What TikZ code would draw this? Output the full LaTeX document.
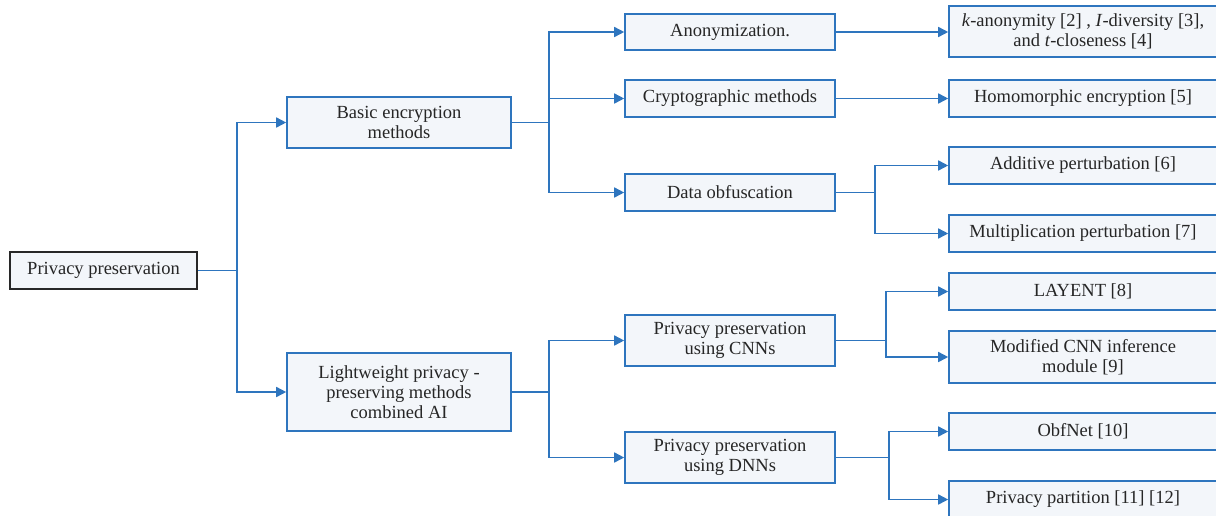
\documentclass[tikz,border=0pt]{standalone}
\usepackage{fontspec}
\setmainfont{Liberation Serif}
\usetikzlibrary{arrows.meta}
\definecolor{lineblue}{RGB}{46,117,190}
\definecolor{boxfill}{RGB}{243,246,250}
\definecolor{rootedge}{RGB}{40,40,40}
\begin{document}
\begin{tikzpicture}[x=1pt,y=-1pt,
  box/.style={draw=lineblue,line width=1.6pt,fill=boxfill,inner sep=0pt,align=center,
    font=\fontsize{18.5}{20}\selectfont,text=black!85},
  rootbox/.style={box,draw=rootedge},
  conn/.style={draw=lineblue,line width=1.6pt},
  arr/.style={conn,-{Triangle[length=10pt,width=10pt]}}]
\clip (0,0) rectangle (1216,515);
\fill[white] (0,0) rectangle (1216,515);
% nodes
\node[rootbox,minimum width=187pt,minimum height=37pt] (root) at (103.5,270.5) {Privacy preservation};
\node[box,minimum width=224pt,minimum height=51pt] (basic) at (399,122.5) {Basic encryption\\methods};
\node[box,minimum width=224pt,minimum height=78pt] (light) at (399,392) {Lightweight privacy -\\preserving methods\\combined AI};
\node[box,minimum width=210pt,minimum height=36pt] (anon) at (730,32) {Anonymization.};
\node[box,minimum width=210pt,minimum height=37pt] (crypto) at (730,98.5) {Cryptographic methods};
\node[box,minimum width=210pt,minimum height=37pt] (obf) at (730,192.5) {Data obfuscation};
\node[box,minimum width=210pt,minimum height=51pt] (cnn) at (730,340.5) {Privacy preservation\\using CNNs};
\node[box,minimum width=210pt,minimum height=51pt] (dnn) at (730,457.5) {Privacy preservation\\using DNNs};
\node[box,minimum width=268pt,minimum height=51pt] (kanon) at (1083,31.5) {\textit{k}-anonymity [2] , \textit{I}-diversity [3],\\and \textit{t}-closeness [4]};
\node[box,minimum width=268pt,minimum height=37pt] (homo) at (1083,98.5) {Homomorphic encryption [5]};
\node[box,minimum width=268pt,minimum height=37pt] (add) at (1083,165.5) {Additive perturbation [6]};
\node[box,minimum width=268pt,minimum height=37pt] (mult) at (1083,233.5) {Multiplication perturbation [7]};
\node[box,minimum width=268pt,minimum height=37pt] (layent) at (1083,291.5) {LAYENT [8]};
\node[box,minimum width=268pt,minimum height=52pt] (mod) at (1083,357) {Modified CNN inference\\module [9]};
\node[box,minimum width=268pt,minimum height=37pt] (obfnet) at (1083,431.5) {ObfNet [10]};
\node[box,minimum width=268pt,minimum height=37pt] (part) at (1083,499.5) {Privacy partition [11] [12]};
% junction coordinates
\coordinate (j0) at (237,0);
\coordinate (j1) at (549,0);
\coordinate (j2) at (875,0);
\coordinate (j3) at (886,0);
\coordinate (j4) at (889,0);
% connectors
\draw[conn] (root.east) -- (root.east -| j0);
\draw[arr] (root.east -| j0) |- (basic.west);
\draw[arr] (root.east -| j0) |- (light.west);
\draw[conn] (basic.east) -- (basic.east -| j1);
\draw[arr] (basic.east -| j1) |- (anon.west);
\draw[arr] (basic.east -| j1) |- (crypto.west);
\draw[arr] (basic.east -| j1) |- (obf.west);
\draw[conn] (light.east) -- (light.east -| j1);
\draw[arr] (light.east -| j1) |- (cnn.west);
\draw[arr] (light.east -| j1) |- (dnn.west);
\draw[arr] (anon.east) -- (anon.east -| kanon.west);
\draw[arr] (crypto.east) -- (homo.west);
\draw[conn] (obf.east) -- (obf.east -| j2);
\draw[arr] (obf.east -| j2) |- (add.west);
\draw[arr] (obf.east -| j2) |- (mult.west);
\draw[conn] (cnn.east) -- (cnn.east -| j3);
\draw[arr] (cnn.east -| j3) |- (layent.west);
\draw[arr] (cnn.east -| j3) |- (mod.west);
\draw[conn] (dnn.east) -- (dnn.east -| j4);
\draw[arr] (dnn.east -| j4) |- (obfnet.west);
\draw[arr] (dnn.east -| j4) |- (part.west);
\end{tikzpicture}
\end{document}
